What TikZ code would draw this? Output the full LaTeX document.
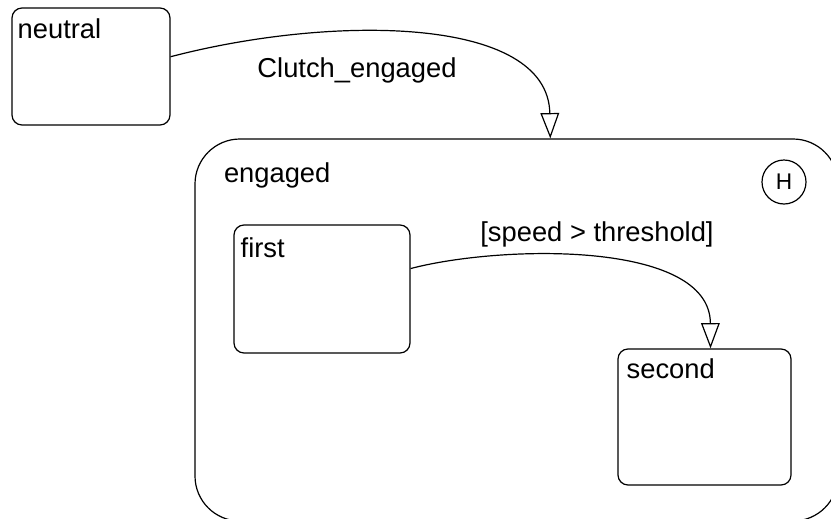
\documentclass[tikz,border=0pt]{standalone}
\usepackage{fontspec}
\setmainfont{Liberation Sans}
\usetikzlibrary{arrows.meta}

\begin{document}
\begin{tikzpicture}[x=0.75pt,y=0.75pt,yscale=-1,xscale=1,
        state/.style={draw, line width=0.9pt, rounded corners=7.5pt, inner sep=0pt},
        statename/.style={anchor=base west, inner sep=0pt, font=\fontsize{20.5}{24}\selectfont},
        trans/.style={line width=0.9pt, -{Triangle[open,length=19pt,width=14pt]}},
        translabel/.style={inner sep=0.75pt, font=\fontsize{20.5}{24}\selectfont}]
    \clip (0,0) rectangle (831,518);
    % states
    \node [state, minimum width=118.5pt, minimum height=87.75pt,
           label={[statename, xshift=4.5pt, yshift=-23.25pt]north west:neutral}] (neutral) at (91,66.5) {};
    \node [state, rounded corners=33.75pt, minimum width=482.25pt, minimum height=286.5pt,
           label={[statename, xshift=22pt, yshift=-33pt]north west:engaged}] (engaged) at (516.5,330) {};
    \node [state, minimum width=132pt, minimum height=96pt,
           label={[statename, xshift=5.25pt, yshift=-24.75pt]north west:first}] (first) at (322,289) {};
    \node [state, minimum width=129.75pt, minimum height=102pt,
           label={[statename, xshift=6.75pt, yshift=-22.5pt]north west:second}] (second) at (704.5,417) {};
    % history junction
    \node [draw, circle, line width=0.9pt, minimum size=33pt, inner sep=0pt,
           font=\fontsize{17}{20}\selectfont] (hist) at (784,182) {H};
    % transitions
    \draw [trans] (neutral.7) .. controls (330,15) and (548,15) .. (engaged.80.5);
    \node [translabel] (clutch) at (357,70) {Clutch\_engaged};
    \draw [trans] (first.13) .. controls (500,245) and (710,240) .. (second.85);
    \node [translabel] (speed) at (597,234) {[speed > threshold]};
\end{tikzpicture}
\end{document}
